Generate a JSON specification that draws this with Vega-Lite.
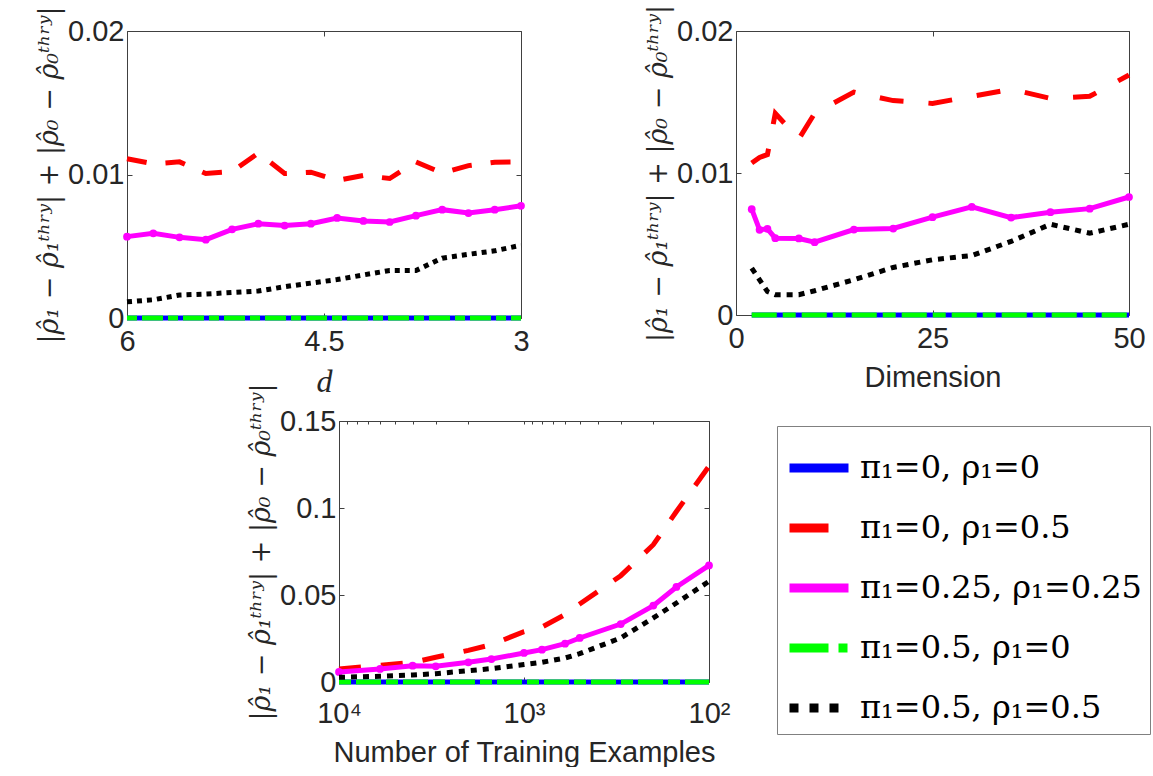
{
  "$schema": "https://vega.github.io/schema/vega-lite/v6.json",
  "background": "white",
  "padding": {"left": 35, "top": 4, "right": 0, "bottom": 0},
  "config": {
    "view": {"stroke": null},
    "axis": {
      "grid": false,
      "labelFont": "Liberation Sans",
      "labelFontSize": 29,
      "labelColor": "#262626",
      "titleFont": "Liberation Sans",
      "titleFontSize": 29,
      "titleFontWeight": "normal",
      "titleColor": "#262626",
      "domainColor": "#404040",
      "tickColor": "#404040",
      "tickSize": -5,
      "labelFlush": false,
      "labelOverlap": false
    },
    "axisX": {"labelPadding": 14, "titlePadding": 10},
    "axisY": {"labelPadding": 8, "titlePadding": 4, "titleFont": "DejaVu Serif", "titleFontStyle": "italic", "titleFontSize": 27}
  },
  "datasets": {
    "p1": [
      {"s":"A","x":6,"v":0},{"s":"A","x":5.8,"v":0},{"s":"A","x":5.6,"v":0},{"s":"A","x":5.4,"v":0},{"s":"A","x":5.2,"v":0},{"s":"A","x":5,"v":0},{"s":"A","x":4.8,"v":0},{"s":"A","x":4.6,"v":0},{"s":"A","x":4.4,"v":0},{"s":"A","x":4.2,"v":0},{"s":"A","x":4,"v":0},{"s":"A","x":3.8,"v":0},{"s":"A","x":3.6,"v":0},{"s":"A","x":3.4,"v":0},{"s":"A","x":3.2,"v":0},{"s":"A","x":3,"v":0},
      {"s":"B","x":6,"v":0.0111},{"s":"B","x":5.8,"v":0.01074},{"s":"B","x":5.6,"v":0.01088},{"s":"B","x":5.4,"v":0.01007},{"s":"B","x":5.2,"v":0.0102},{"s":"B","x":5,"v":0.0115},{"s":"B","x":4.8,"v":0.01007},{"s":"B","x":4.6,"v":0.01016},{"s":"B","x":4.4,"v":0.00958},{"s":"B","x":4.2,"v":0.00993},{"s":"B","x":4,"v":0.00972},{"s":"B","x":3.8,"v":0.01088},{"s":"B","x":3.6,"v":0.0101},{"s":"B","x":3.4,"v":0.01062},{"s":"B","x":3.2,"v":0.01086},{"s":"B","x":3,"v":0.01088},
      {"s":"C","x":6,"v":0.00567},{"s":"C","x":5.8,"v":0.0059},{"s":"C","x":5.6,"v":0.00562},{"s":"C","x":5.4,"v":0.00546},{"s":"C","x":5.2,"v":0.00618},{"s":"C","x":5,"v":0.00657},{"s":"C","x":4.8,"v":0.00644},{"s":"C","x":4.6,"v":0.00657},{"s":"C","x":4.4,"v":0.00697},{"s":"C","x":4.2,"v":0.00676},{"s":"C","x":4,"v":0.00669},{"s":"C","x":3.8,"v":0.00713},{"s":"C","x":3.6,"v":0.00755},{"s":"C","x":3.4,"v":0.00731},{"s":"C","x":3.2,"v":0.00755},{"s":"C","x":3,"v":0.00782},
      {"s":"D","x":6,"v":0},{"s":"D","x":5.8,"v":0},{"s":"D","x":5.6,"v":0},{"s":"D","x":5.4,"v":0},{"s":"D","x":5.2,"v":0},{"s":"D","x":5,"v":0},{"s":"D","x":4.8,"v":0},{"s":"D","x":4.6,"v":0},{"s":"D","x":4.4,"v":0},{"s":"D","x":4.2,"v":0},{"s":"D","x":4,"v":0},{"s":"D","x":3.8,"v":0},{"s":"D","x":3.6,"v":0},{"s":"D","x":3.4,"v":0},{"s":"D","x":3.2,"v":0},{"s":"D","x":3,"v":0},
      {"s":"E","x":6,"v":0.00113},{"s":"E","x":5.8,"v":0.00127},{"s":"E","x":5.6,"v":0.0016},{"s":"E","x":5.4,"v":0.00167},{"s":"E","x":5.2,"v":0.00178},{"s":"E","x":5,"v":0.00188},{"s":"E","x":4.8,"v":0.00218},{"s":"E","x":4.6,"v":0.00243},{"s":"E","x":4.4,"v":0.00268},{"s":"E","x":4.2,"v":0.003},{"s":"E","x":4,"v":0.00331},{"s":"E","x":3.8,"v":0.00331},{"s":"E","x":3.6,"v":0.00417},{"s":"E","x":3.4,"v":0.00444},{"s":"E","x":3.2,"v":0.00468},{"s":"E","x":3,"v":0.00507}
    ],
    "p2": [
      {"s":"A","x":2,"v":0},{"s":"A","x":3,"v":0},{"s":"A","x":4,"v":0},{"s":"A","x":5,"v":0},{"s":"A","x":8,"v":0},{"s":"A","x":10,"v":0},{"s":"A","x":15,"v":0},{"s":"A","x":20,"v":0},{"s":"A","x":25,"v":0},{"s":"A","x":30,"v":0},{"s":"A","x":35,"v":0},{"s":"A","x":40,"v":0},{"s":"A","x":45,"v":0},{"s":"A","x":50,"v":0},
      {"s":"B","x":2,"v":0.0107},{"s":"B","x":3,"v":0.0111},{"s":"B","x":4,"v":0.0113},{"s":"B","x":5,"v":0.0142},{"s":"B","x":8,"v":0.0124},{"s":"B","x":10,"v":0.0142},{"s":"B","x":15,"v":0.0157},{"s":"B","x":20,"v":0.0151},{"s":"B","x":25,"v":0.0149},{"s":"B","x":30,"v":0.0154},{"s":"B","x":35,"v":0.0159},{"s":"B","x":40,"v":0.01525},{"s":"B","x":45,"v":0.0154},{"s":"B","x":50,"v":0.0169},
      {"s":"C","x":2,"v":0.00745},{"s":"C","x":3,"v":0.006},{"s":"C","x":4,"v":0.00607},{"s":"C","x":5,"v":0.00541},{"s":"C","x":8,"v":0.00539},{"s":"C","x":10,"v":0.00513},{"s":"C","x":15,"v":0.00602},{"s":"C","x":20,"v":0.00609},{"s":"C","x":25,"v":0.00689},{"s":"C","x":30,"v":0.00761},{"s":"C","x":35,"v":0.00686},{"s":"C","x":40,"v":0.00724},{"s":"C","x":45,"v":0.00749},{"s":"C","x":50,"v":0.00831},
      {"s":"D","x":2,"v":0},{"s":"D","x":3,"v":0},{"s":"D","x":4,"v":0},{"s":"D","x":5,"v":0},{"s":"D","x":8,"v":0},{"s":"D","x":10,"v":0},{"s":"D","x":15,"v":0},{"s":"D","x":20,"v":0},{"s":"D","x":25,"v":0},{"s":"D","x":30,"v":0},{"s":"D","x":35,"v":0},{"s":"D","x":40,"v":0},{"s":"D","x":45,"v":0},{"s":"D","x":50,"v":0},
      {"s":"E","x":2,"v":0.0033},{"s":"E","x":3,"v":0.00248},{"s":"E","x":4,"v":0.00165},{"s":"E","x":5,"v":0.00143},{"s":"E","x":8,"v":0.00143},{"s":"E","x":10,"v":0.00171},{"s":"E","x":15,"v":0.00248},{"s":"E","x":20,"v":0.00335},{"s":"E","x":25,"v":0.00389},{"s":"E","x":30,"v":0.00419},{"s":"E","x":35,"v":0.00518},{"s":"E","x":40,"v":0.00639},{"s":"E","x":45,"v":0.00576},{"s":"E","x":50,"v":0.00639}
    ],
    "p3": [
      {"s":"A","x":10000,"v":0},{"s":"A","x":6000,"v":0},{"s":"A","x":4000,"v":0},{"s":"A","x":3000,"v":0},{"s":"A","x":2000,"v":0},{"s":"A","x":1500,"v":0},{"s":"A","x":1000,"v":0},{"s":"A","x":800,"v":0},{"s":"A","x":600,"v":0},{"s":"A","x":500,"v":0},{"s":"A","x":300,"v":0},{"s":"A","x":200,"v":0},{"s":"A","x":150,"v":0},{"s":"A","x":100,"v":0},
      {"s":"B","x":10000,"v":0.0075},{"s":"B","x":6000,"v":0.0096},{"s":"B","x":4000,"v":0.0113},{"s":"B","x":3000,"v":0.0142},{"s":"B","x":2000,"v":0.0182},{"s":"B","x":1500,"v":0.0215},{"s":"B","x":1000,"v":0.0289},{"s":"B","x":800,"v":0.0316},{"s":"B","x":600,"v":0.0387},{"s":"B","x":500,"v":0.0448},{"s":"B","x":300,"v":0.0611},{"s":"B","x":200,"v":0.0789},{"s":"B","x":150,"v":0.098},{"s":"B","x":100,"v":0.124},
      {"s":"C","x":10000,"v":0.00575},{"s":"C","x":6000,"v":0.0075},{"s":"C","x":4000,"v":0.0094},{"s":"C","x":3000,"v":0.009},{"s":"C","x":2000,"v":0.0113},{"s":"C","x":1500,"v":0.0132},{"s":"C","x":1000,"v":0.0167},{"s":"C","x":800,"v":0.0186},{"s":"C","x":600,"v":0.022},{"s":"C","x":500,"v":0.0253},{"s":"C","x":300,"v":0.0333},{"s":"C","x":200,"v":0.0439},{"s":"C","x":150,"v":0.0546},{"s":"C","x":100,"v":0.067},
      {"s":"D","x":10000,"v":0},{"s":"D","x":6000,"v":0},{"s":"D","x":4000,"v":0},{"s":"D","x":3000,"v":0},{"s":"D","x":2000,"v":0},{"s":"D","x":1500,"v":0},{"s":"D","x":1000,"v":0},{"s":"D","x":800,"v":0},{"s":"D","x":600,"v":0},{"s":"D","x":500,"v":0},{"s":"D","x":300,"v":0},{"s":"D","x":200,"v":0},{"s":"D","x":150,"v":0},{"s":"D","x":100,"v":0},
      {"s":"E","x":10000,"v":0.0027},{"s":"E","x":6000,"v":0.0033},{"s":"E","x":4000,"v":0.004},{"s":"E","x":3000,"v":0.0048},{"s":"E","x":2000,"v":0.0065},{"s":"E","x":1500,"v":0.0077},{"s":"E","x":1000,"v":0.01},{"s":"E","x":800,"v":0.0113},{"s":"E","x":600,"v":0.0138},{"s":"E","x":500,"v":0.0163},{"s":"E","x":300,"v":0.0253},{"s":"E","x":200,"v":0.0368},{"s":"E","x":150,"v":0.0454},{"s":"E","x":100,"v":0.0579}
    ]
  },
  "resolve": {"scale": {"color": "independent"}, "legend": {"color": "independent"}},
  "columns": 1,
  "align": "none",
  "spacing": -15,
  "concat": [
    {
      "columns": 2,
      "align": "none",
      "spacing": 113,
      "concat": [
        {
          "width": 394, "height": 287,
          "data": {"name": "p1"},
          "layer": [
            {
              "transform": [{"filter": "datum.s === 'A'"}],
              "mark": {"type": "line", "color": "#0000ff", "strokeWidth": 5},
              "encoding": {
                "x": {"field": "x", "type": "quantitative", "scale": {"domain": [3, 6], "reverse": true, "nice": false, "zero": false}, "axis": {"orient": "top", "values": [6, 4.5, 3], "labels": false, "title": null}},
                "y": {"field": "v", "type": "quantitative", "scale": {"domain": [0, 0.02], "nice": false}, "axis": {"orient": "right", "values": [0, 0.01, 0.02], "labels": false, "title": null}}
              }
            },
            {
              "encoding": {
                "x": {"field": "x", "type": "quantitative", "scale": {"domain": [3, 6], "reverse": true, "nice": false, "zero": false}, "axis": {"orient": "bottom", "values": [6, 4.5, 3], "labelExpr": "toString(datum.value)", "title": "d", "titleFont": "Liberation Serif", "titleFontStyle": "italic", "titleFontSize": 32}},
                "y": {"field": "v", "type": "quantitative", "scale": {"domain": [0, 0.02], "nice": false}, "axis": {"orient": "left", "values": [0, 0.01, 0.02], "labelExpr": "toString(datum.value)", "title": "|ρ̂₁ − ρ̂₁ᵗʰʳʸ| + |ρ̂₀ − ρ̂₀ᵗʰʳʸ|"}}
              },
              "layer": [
                {"transform": [{"filter": "datum.s === 'B'"}], "mark": {"type": "line", "color": "#ff0000", "strokeWidth": 5, "strokeDash": [20, 19]}, "encoding": {}},
                {"transform": [{"filter": "datum.s === 'C'"}], "mark": {"type": "line", "color": "#ff00ff", "strokeWidth": 5}, "encoding": {}},
                {"transform": [{"filter": "datum.s === 'C'"}], "mark": {"type": "point", "color": "#ff00ff", "filled": true, "opacity": 1, "size": 60}},
                {"transform": [{"filter": "datum.s === 'D'"}], "mark": {"type": "line", "color": "#00ff00", "strokeWidth": 5, "strokeDash": [10, 5, 21, 5]}, "encoding": {}},
                {"transform": [{"filter": "datum.s === 'E'"}], "mark": {"type": "line", "color": "#000000", "strokeWidth": 5, "strokeDash": [5, 5]}, "encoding": {}}
              ]
            }
          ],
          "resolve": {"axis": {"x": "independent", "y": "independent"}}
        },
        {
          "width": 393, "height": 284,
          "data": {"name": "p2"},
          "layer": [
            {
              "transform": [{"filter": "datum.s === 'A'"}],
              "mark": {"type": "line", "color": "#0000ff", "strokeWidth": 5},
              "encoding": {
                "x": {"field": "x", "type": "quantitative", "scale": {"domain": [0, 50], "nice": false}, "axis": {"orient": "top", "values": [0, 25, 50], "labels": false, "title": null}},
                "y": {"field": "v", "type": "quantitative", "scale": {"domain": [0, 0.02], "nice": false}, "axis": {"orient": "right", "values": [0, 0.01, 0.02], "labels": false, "title": null}}
              }
            },
            {
              "encoding": {
                "x": {"field": "x", "type": "quantitative", "scale": {"domain": [0, 50], "nice": false}, "axis": {"orient": "bottom", "values": [0, 25, 50], "labelExpr": "toString(datum.value)", "title": "Dimension"}},
                "y": {"field": "v", "type": "quantitative", "scale": {"domain": [0, 0.02], "nice": false}, "axis": {"orient": "left", "values": [0, 0.01, 0.02], "labelExpr": "toString(datum.value)", "title": "|ρ̂₁ − ρ̂₁ᵗʰʳʸ| + |ρ̂₀ − ρ̂₀ᵗʰʳʸ|"}}
              },
              "layer": [
                {"transform": [{"filter": "datum.s === 'B'"}], "mark": {"type": "line", "color": "#ff0000", "strokeWidth": 5, "strokeDash": [24, 25]}, "encoding": {}},
                {"transform": [{"filter": "datum.s === 'C'"}], "mark": {"type": "line", "color": "#ff00ff", "strokeWidth": 5}, "encoding": {}},
                {"transform": [{"filter": "datum.s === 'C'"}], "mark": {"type": "point", "color": "#ff00ff", "filled": true, "opacity": 1, "size": 60}},
                {"transform": [{"filter": "datum.s === 'D'"}], "mark": {"type": "line", "color": "#00ff00", "strokeWidth": 5, "strokeDash": [25, 6, 13, 6]}, "encoding": {}},
                {"transform": [{"filter": "datum.s === 'E'"}], "mark": {"type": "line", "color": "#000000", "strokeWidth": 5, "strokeDash": [6, 6]}, "encoding": {}}
              ]
            }
          ],
          "resolve": {"axis": {"x": "independent", "y": "independent"}}
        }
      ]
    },
    {
      "columns": 2,
      "align": "none",
      "spacing": 20,
      "resolve": {"scale": {"color": "independent"}, "legend": {"color": "independent"}},
      "concat": [
        {
          "width": 100, "height": 10,
          "data": {"values": []},
          "mark": "point",
          "view": {"fill": "white", "stroke": null}
        },
        {
          "width": 370, "height": 261,
          "data": {"name": "p3"},
          "layer": [
            {
              "transform": [{"filter": "datum.s === 'A'"}],
              "mark": {"type": "line", "color": "#0000ff", "strokeWidth": 5},
              "encoding": {
                "x": {"field": "x", "type": "quantitative", "scale": {"type": "log", "domain": [100, 10000], "reverse": true, "nice": false}, "axis": {"orient": "top", "values": [10000, 9000, 8000, 7000, 6000, 5000, 4000, 3000, 2000, 1000, 900, 800, 700, 600, 500, 400, 300, 200, 100], "labels": false, "title": null, "tickSize": -3}},
                "y": {"field": "v", "type": "quantitative", "scale": {"domain": [0, 0.15], "nice": false}, "axis": {"orient": "right", "values": [0, 0.05, 0.1, 0.15], "labels": false, "title": null}}
              }
            },
            {
              "encoding": {
                "x": {"field": "x", "type": "quantitative", "scale": {"type": "log", "domain": [100, 10000], "reverse": true, "nice": false}, "axis": {"orient": "bottom", "values": [10000, 1000, 100], "labelPadding": 22, "labelExpr": "datum.value == 10000 ? '10⁴' : datum.value == 1000 ? '10³' : '10²'", "title": "Number of Training Examples"}},
                "y": {"field": "v", "type": "quantitative", "scale": {"domain": [0, 0.15], "nice": false}, "axis": {"orient": "left", "values": [0, 0.05, 0.1, 0.15], "labelExpr": "toString(datum.value)", "title": "|ρ̂₁ − ρ̂₁ᵗʰʳʸ| + |ρ̂₀ − ρ̂₀ᵗʰʳʸ|"}}
              },
              "layer": [
                {
                  "transform": [{"filter": "datum.s === 'B'"}],
                  "mark": {"type": "line", "strokeWidth": 5, "strokeDash": [22, 20]},
                  "encoding": {
                    "color": {
                      "field": "s", "type": "nominal",
                      "scale": {"domain": ["A", "B", "C", "D", "E"], "range": ["#0000ff", "#ff0000", "#ff00ff", "#00ff00", "#000000"]},
                      "legend": {
                        "orient": "none", "legendX": 438, "legendY": 5, "title": null,
                        "labelExpr": "datum.label === 'A' ? 'π₁=0, ρ₁=0' : datum.label === 'B' ? 'π₁=0, ρ₁=0.5' : datum.label === 'C' ? 'π₁=0.25, ρ₁=0.25' : datum.label === 'D' ? 'π₁=0.5, ρ₁=0' : 'π₁=0.5, ρ₁=0.5'",
                        "labelFont": "DejaVu Serif", "labelFontSize": 32, "labelColor": "#000000", "labelLimit": 0,
                        "symbolType": "stroke", "symbolSize": 3481, "symbolStrokeWidth": 9,
                        "strokeColor": "#808080", "fillColor": "white", "padding": 8, "labelOffset": 7, "rowPadding": 8,
                        "encode": {"symbols": {"update": {"strokeDash": {"signal": "datum.value === 'B' ? [39, 25] : datum.value === 'D' ? [39, 10, 9, 10] : datum.value === 'E' ? [9, 11] : [1, 0]"}}}}
                      }
                    }
                  }
                },
                {"transform": [{"filter": "datum.s === 'C'"}], "mark": {"type": "line", "color": "#ff00ff", "strokeWidth": 5}, "encoding": {}},
                {"transform": [{"filter": "datum.s === 'C'"}], "mark": {"type": "point", "color": "#ff00ff", "filled": true, "opacity": 1, "size": 60}},
                {"transform": [{"filter": "datum.s === 'D'"}], "mark": {"type": "line", "color": "#00ff00", "strokeWidth": 5, "strokeDash": [12, 5, 25, 5]}, "encoding": {}},
                {"transform": [{"filter": "datum.s === 'E'"}], "mark": {"type": "line", "color": "#000000", "strokeWidth": 5, "strokeDash": [6, 6]}, "encoding": {}}
              ]
            }
          ],
          "resolve": {"axis": {"x": "independent", "y": "independent"}}
        }
      ]
    }
  ]
}
